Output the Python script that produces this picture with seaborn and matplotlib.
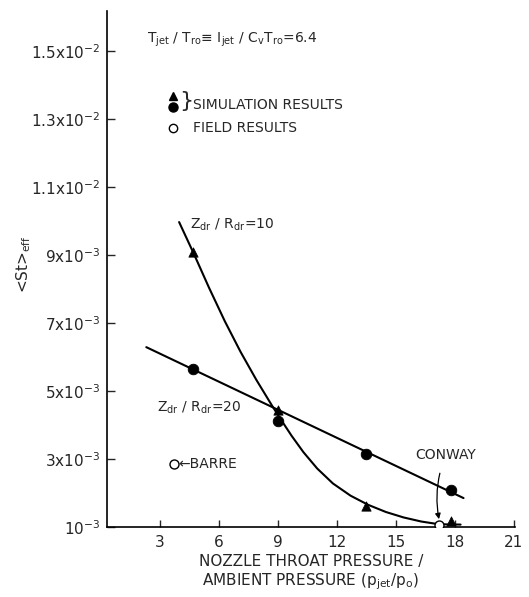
import matplotlib
matplotlib.use("Agg")
import matplotlib.pyplot as plt
import seaborn as sns

# ---- data ----
pressure_ratio = [4.7, 9.0, 13.5, 17.8]
st_z10 = [9.1e-3, 4.44e-3, 1.63e-3, 1.17e-3]       # triangles, Z/R = 10
st_z20 = [5.65e-3, 4.12e-3, 3.16e-3, 2.08e-3]      # filled circles, Z/R = 20
field_names = ["BARRE", "CONWAY"]
field_x = [3.7, 17.2]
field_y = [2.85e-3, 1.06e-3]
z20_fit_x = [2.3, 18.45]
z20_fit_y = [6.29e-3, 1.85e-3]
z10_curve_x = [3.97, 4.71, 5.5, 6.3, 7.1, 7.9, 8.7, 9.13, 9.7, 10.3, 11.0, 11.8, 12.7,
               13.6, 14.5, 15.4, 16.3, 17.2, 18.3]
z10_curve_y = [9.97e-3, 9.05e-3, 8.03e-3, 7.05e-3, 6.15e-3, 5.33e-3, 4.57e-3, 4.18e-3,
               3.68e-3, 3.20e-3, 2.72e-3, 2.28e-3, 1.92e-3, 1.65e-3, 1.44e-3, 1.28e-3,
               1.16e-3, 1.08e-3, 1.07e-3]
x_ticks = [3, 6, 9, 12, 15, 18, 21]
y_ticks = [1e-3, 3e-3, 5e-3, 7e-3, 9e-3, 1.1e-2, 1.3e-2, 1.5e-2]
y_tick_labels = [r"$10^{-3}$", r"$3\mathregular{x}10^{-3}$", r"$5\mathregular{x}10^{-3}$",
                 r"$7\mathregular{x}10^{-3}$", r"$9\mathregular{x}10^{-3}$",
                 r"$1.1\mathregular{x}10^{-2}$", r"$1.3\mathregular{x}10^{-2}$",
                 r"$1.5\mathregular{x}10^{-2}$"]

sns.set_style("ticks")
plt.rcParams["font.family"] = ["DejaVu Sans"]
plt.rcParams["mathtext.default"] = "regular"

fig = plt.figure(figsize=(5.29, 5.97), dpi=100)
ax = fig.add_axes([0.2023, 0.1173, 0.7705, 0.8643])

lw = 1.5
sns.lineplot(x=z20_fit_x, y=z20_fit_y, ax=ax, color="black", lw=lw, sort=False)
sns.lineplot(x=z10_curve_x, y=z10_curve_y, ax=ax, color="black", lw=lw, sort=False)

sns.scatterplot(x=pressure_ratio, y=st_z10, ax=ax, marker="^", s=45, color="black",
                edgecolor="black", zorder=5)
sns.scatterplot(x=pressure_ratio, y=st_z20, ax=ax, marker="o", s=58, color="black",
                edgecolor="black", zorder=5)
sns.scatterplot(x=field_x, y=field_y, ax=ax, marker="o", s=42, color="white",
                edgecolor="black", linewidth=1.0, zorder=6)

ax.set_xlim(0.3, 21.05)
ax.set_ylim(1e-3, 1.618e-2)
ax.set_xticks(x_ticks)
ax.set_xticklabels([str(t) for t in x_ticks])
ax.set_yticks(y_ticks)
ax.set_yticklabels(y_tick_labels)
ax.tick_params(axis="x", direction="in", length=5, width=1, pad=6, labelsize=11)
ax.tick_params(axis="y", direction="in", length=6, width=1, pad=5, labelsize=11)
for side in ["top", "right"]:
    ax.spines[side].set_visible(False)
for side in ["left", "bottom"]:
    ax.spines[side].set_linewidth(1.2)
    ax.spines[side].set_color("black")

ax.set_xlabel("NOZZLE THROAT PRESSURE /\nAMBIENT PRESSURE (p$_{jet}$/p$_o$)", fontsize=11,
              linespacing=1.15, labelpad=3)
ax.set_ylabel(r"<St>$_{eff}$", fontsize=11)
ax.yaxis.set_label_coords(-0.182, 0.51)

# annotations
ax.text(0.098, 0.944, r"T$_{jet}$ / T$_{ro}$≡ I$_{jet}$ / C$_v$T$_{ro}$=6.4",
        transform=ax.transAxes, fontsize=10, va="center", ha="left")
ax.plot([0.162], [0.835], marker="^", color="black", ms=5.5, transform=ax.transAxes,
        clip_on=False)
ax.plot([0.162], [0.814], marker="o", color="black", ms=6.5, transform=ax.transAxes,
        clip_on=False)
ax.plot([0.162], [0.773], marker="o", mfc="white", mec="black", ms=6.0, mew=1.0,
        transform=ax.transAxes, clip_on=False)
ax.text(0.176, 0.825, "}", transform=ax.transAxes, fontsize=16, va="center", ha="left")
ax.text(0.212, 0.818, "SIMULATION RESULTS", transform=ax.transAxes, fontsize=10,
        va="center", ha="left")
ax.text(0.212, 0.773, "FIELD RESULTS", transform=ax.transAxes, fontsize=10,
        va="center", ha="left")

ax.text(4.55, 9.9e-3, r"Z$_{dr}$ / R$_{dr}$=10", fontsize=10, va="center", ha="left")
ax.text(2.85, 4.5e-3, r"Z$_{dr}$ / R$_{dr}$=20", fontsize=10, va="center", ha="left")
ax.text(field_x[0] + 0.22, field_y[0], "←" + field_names[0], fontsize=10, va="center",
        ha="left")
ax.annotate(field_names[1], xy=(field_x[1], field_y[1] + 0.17e-3), xytext=(17.55, 3.12e-3),
            fontsize=10, ha="center", va="center",
            arrowprops=dict(arrowstyle="-|>", color="black", lw=0.9, shrinkA=6, shrinkB=0,
                            mutation_scale=8, connectionstyle="arc3,rad=0.15"))

fig.savefig("out.png", dpi=100)
